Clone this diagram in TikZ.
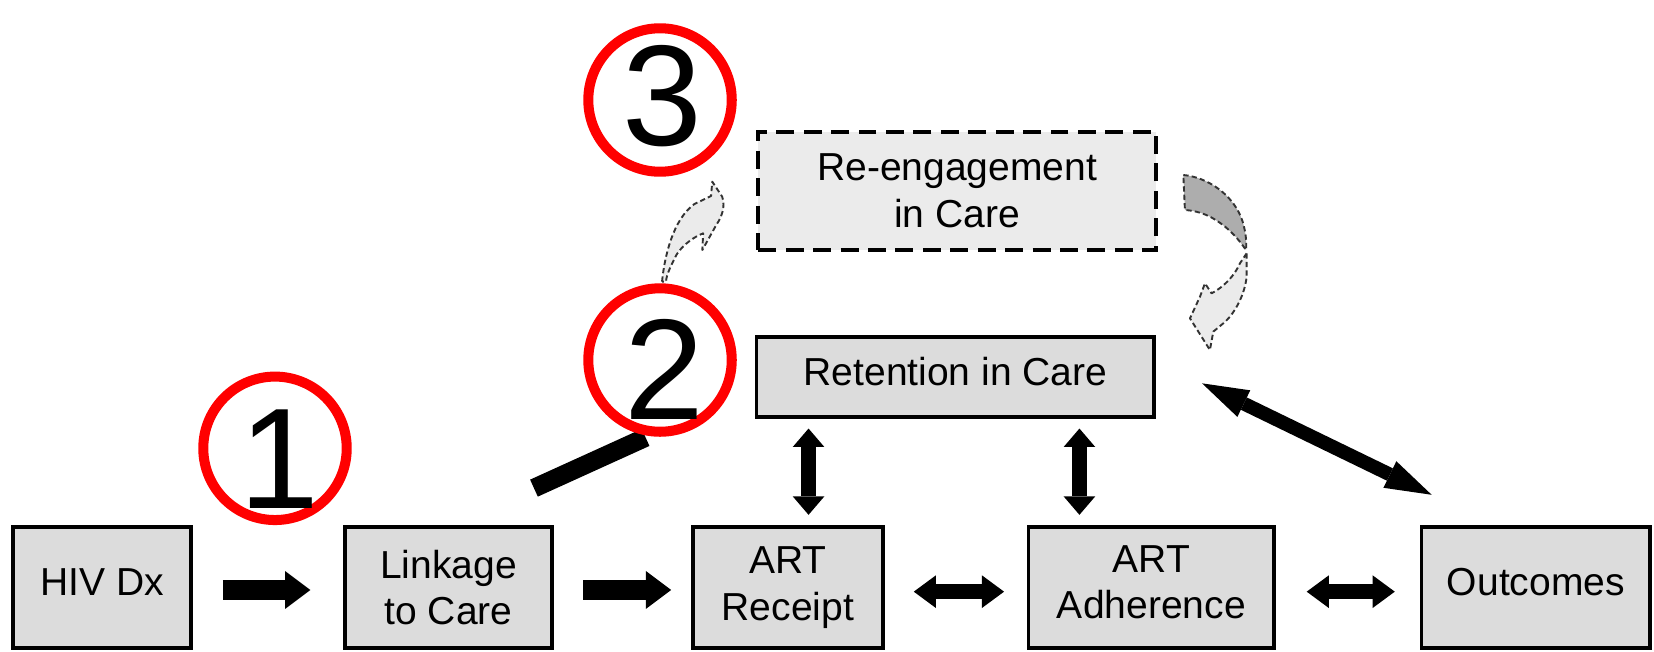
\documentclass[tikz,border=0pt]{standalone}
\usepackage{fontspec}
\newfontfamily\labfont{Liberation Sans}
\usetikzlibrary{arrows.meta,calc}
\definecolor{boxgray}{HTML}{DCDCDC}
\definecolor{hatchgray}{HTML}{EBEBEB}
\definecolor{ringred}{HTML}{FF0000}
\definecolor{darkfill}{HTML}{ADADAD}

\begin{document}
\begin{tikzpicture}[x=1pt,y=-1pt,
  cbox/.style={draw=black, line width=3.5pt, fill=boxgray, inner sep=0pt,
    align=center, font=\labfont\fontsize{37}{44}\selectfont},
  onerow/.style={text depth=10pt},
  dashbox/.style={cbox, fill=hatchgray, line width=4pt, dash pattern=on 17pt off 9pt},
  numring/.style={circle, draw=ringred, line width=9.5pt, fill=white,
    minimum size=136pt, inner sep=0pt},
  numdigit/.style={inner sep=0pt, font=\labfont\fontsize{136}{140}\selectfont},
  bigarrow/.style={line width=19pt,
    -{Triangle[width=36pt,length=24pt,line width=0pt]}},
  twoway/.style={line width=14pt,
    {Triangle[width=31pt,length=21pt,line width=0pt]}-{Triangle[width=31pt,length=21pt,line width=0pt]}},
  uptwoway/.style={line width=15pt,
    {Triangle[width=30pt,length=17.5pt,line width=0pt]}-{Triangle[width=30pt,length=17.5pt,line width=0pt]}},
  slantway/.style={line width=13pt,
    {Triangle[width=28pt,length=44pt,line width=0pt]}-{Triangle[width=28pt,length=44pt,line width=0pt]}},
  curvedash/.style={draw=black!80, line width=1.8pt, dash pattern=on 5pt off 3pt, line join=round}
]
\useasboundingbox (0,0) rectangle (1568,618);

% boxes of the care cascade
\node[cbox, onerow, minimum width=169pt, minimum height=115pt] (hiv) at (96.7,556.9) {HIV Dx};
\node[cbox, minimum width=196pt, minimum height=115pt] (link) at (425.3,556.9) {Linkage\\to Care};
\node[cbox, minimum width=180pt, minimum height=115pt] (recv) at (747,556.9) {ART\\Receipt};
\node[cbox, text depth=10pt, minimum width=233pt, minimum height=115pt] (adh) at (1091.5,556.9) {ART\\Adherence};
\node[cbox, onerow, minimum width=217pt, minimum height=115pt] (out) at (1456,556.9) {Outcomes};
\node[cbox, onerow, minimum width=377pt, minimum height=76pt] (ret) at (905.8,357.4) {Retention in Care};
\node[dashbox, minimum width=377pt, minimum height=112pt] (reeng) at (907.4,180.9) {Re-engagement\\in Care};

% forward arrows along the bottom row
\draw[bigarrow, shorten <=28.3pt, shorten >=31.3pt] ([yshift=-2.4pt]hiv.east) -- ([yshift=-2.4pt]link.west);
\draw[bigarrow, shorten <=27.7pt, shorten >=19pt] ([yshift=-2.4pt]link.east) -- ([yshift=-2.4pt]recv.west);
\draw[twoway, shorten <=27.5pt, shorten >=21.4pt] ([yshift=-4pt]recv.east) -- ([yshift=-4pt]adh.west);
\draw[twoway, shorten <=29pt, shorten >=23.5pt] ([yshift=-4pt]adh.east) -- ([yshift=-4pt]out.west);

% links between retention and the ART boxes
\draw[uptwoway, shorten <=9.1pt, shorten >=9.6pt] (ret.south -| 766.5,0) -- (recv.north -| 766.5,0);
\draw[uptwoway, shorten <=9.1pt, shorten >=9.6pt] (ret.south -| 1023.3,0) -- (adh.north -| 1023.3,0);

% retention <-> outcomes
\coordinate (ra) at ($(ret.east)+(43.5,6)$);
\coordinate (oa) at ($(out.north)+(-98.8,-28.6)$);
\draw[slantway] (ra) -- (oa);

% thick bar rising from linkage
\coordinate (tl) at ($(link.north)+(80.9,-34.9)$);
\coordinate (th) at (612,414.7);
\draw[line width=17.7pt] (tl) -- (th);

% numbered red rings
\node[numring] (c1) at (260.7,425) {};
\node[numring] (c2) at (625.7,341.3) {};
\node[numring] (c3) at (625.7,94.8) {};
\node[numdigit] (n1) at (265,435) {1};
\node[numdigit] (n2) at (630,350) {2};
\node[numdigit] (n3) at (627.6,90.8) {3};

% dashed curved arrow leaving ring 2
\draw[curvedash, fill=hatchgray]
  (627.6,267) .. controls (630,243) and (638,208) .. (658.3,193.4)
  -- (674.1,185.8) -- (675.2,172.2) -- (684.6,186.4)
  .. controls (688,196) and (684,206) .. (679,213.3)
  -- (665.8,237) -- (666.6,221.2)
  .. controls (656,225) and (643,236) .. (639.6,244.9)
  .. controls (636,252) and (632,260) .. (631.3,267) -- cycle;

% dashed curved arrow coming down from re-engagement
\draw[curvedash, fill=darkfill]
  (1121.8,165.9) .. controls (1145,168) and (1170,185) .. (1178,210)
  .. controls (1181,220) and (1182,230) .. (1181.2,237)
  .. controls (1175,228) and (1165,215) .. (1147,205.4)
  .. controls (1138,201) and (1130,199.5) .. (1123.3,199.1) -- cycle;
\draw[curvedash, fill=hatchgray]
  (1181.8,240.2) -- (1181.8,262.3)
  .. controls (1180,280) and (1170,298) .. (1159.7,306.5)
  -- (1150.2,314.4) -- (1147,331.8) -- (1128.1,301.8)
  -- (1137.6,281.2) -- (1142.3,268.6) -- (1148.6,278.1)
  .. controls (1160,272) and (1170,262) .. (1175.5,249.6) -- cycle;
\end{tikzpicture}
\end{document}
